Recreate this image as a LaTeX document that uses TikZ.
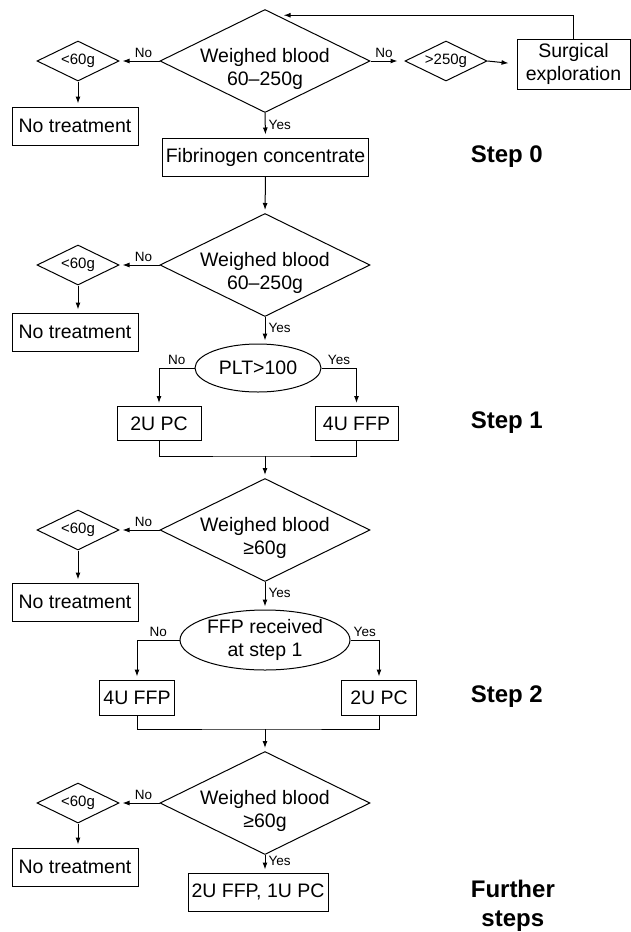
\documentclass[tikz,border=0pt]{standalone}
\usepackage{fontspec}
\setmainfont{Liberation Sans}
\usetikzlibrary{shapes.geometric,arrows.meta,calc}

\begin{document}
\begin{tikzpicture}[x = 1pt, y = -1pt, line width = 1pt,
    >={Latex[length = 7pt, width = 5pt]},
    every node/.style = {font = \fontsize{19.5}{23}\selectfont},
    box/.style = {draw, inner sep = 0pt, minimum height = 38pt},
    bigdia/.style = {draw, diamond, aspect = 2, inner sep = 0pt, minimum width = 210pt, minimum height = 103pt},
    smalldia/.style = {draw, diamond, aspect = 2, inner sep = 0pt, minimum width = 82pt, minimum height = 40pt, font = \fontsize{15}{17}\selectfont},
    oval/.style = {draw, ellipse, inner sep = 0pt, align = center},
    lbl/.style = {font = \fontsize{13.5}{15}\selectfont, inner sep = 3pt},
    stage/.style = {font = \fontsize{24}{29}\selectfont\bfseries, anchor = west, align = center},
    arr/.style = {->, shorten >=3pt}]
\useasboundingbox (0,0) rectangle (631,932);

\node[bigdia] (d1) at (265,61) {};
\node (d1t) [align = center] at ([yshift = -8pt]d1.center) {Weighed blood\\60–250g};
\node[smalldia] (g1) at (446,61) {>250g};
\node[box, minimum width = 113pt, minimum height = 50pt, align = center] (surg) at (573.5,64) {Surgical\\exploration};
\node[box, minimum width = 206pt] (fib) at (265.5,157) {Fibrinogen concentrate};
\node[stage] (s0) at (467,157) {Step 0};

\node[bigdia] (d2) at (265,265) {};
\node (d2t) [align = center] at ([yshift = -8pt]d2.center) {Weighed blood\\60–250g};
\node[oval, minimum width = 126pt, minimum height = 48pt] (plt) at (258,368) {PLT>100};
\node[box, minimum width = 84pt, minimum height = 34pt] (pc1) at (159,423.5) {2U PC};
\node[box, minimum width = 83pt, minimum height = 34pt] (ffp1) at (356.5,423.5) {4U FFP};
\node[stage] (s1) at (467,423) {Step 1};
\coordinate (m1) at (265,456);

\node[bigdia] (d3) at (265,530) {};
\node (d3t) [align = center] at ([yshift = -8pt]d3.center) {Weighed blood\\≥60g};
\node[oval, minimum width = 170pt, minimum height = 60pt] (ffpq) at (265,640) {FFP received\\at step 1};
\node[box, minimum width = 75pt, minimum height = 35pt] (ffp2) at (137,697.5) {4U FFP};
\node[box, minimum width = 75pt, minimum height = 35pt] (pc2) at (379,697.5) {2U PC};
\node[stage] (s2) at (467,697) {Step 2};
\coordinate (m2) at (265,729);

\node[bigdia] (d4) at (265,803) {};
\node (d4t) [align = center] at ([yshift = -8pt]d4.center) {Weighed blood\\≥60g};
\node[box, minimum width = 140pt] (fin) at (258,892) {2U FFP, 1U PC};
\node[stage] (s3) at (467,905.5) {Further\\steps};

\foreach \n/\y/\z in {1/61/126, 2/265/332, 3/530/602, 4/803/867} {
  \node[smalldia] (lt\n) at (78,\y) {<60g};
  \node[box, minimum width = 126pt] (nt\n) at (75,\z) {No treatment};
  \draw[arr] (d\n.west) -- (lt\n.east) node[lbl, above, pos = 0.4] {No};
  \draw[arr] (lt\n.south) -- (lt\n.south |- nt\n.north);
}

\draw[arr, shorten >=7pt] (d1.east) -- (g1.west) node[lbl, above, pos = 0.4] {No};
\draw[arr, shorten >=8pt] (g1.east) -- (surg.west);
\draw[arr, shorten >=6pt] (surg.north) |- ($(d1.north)!0.12!(d1.east)$);
\draw[arr] (d1.south) -- (fib.north) node[lbl, right, pos = 0.48] {Yes};
\draw[arr] (fib.south) -- (d2.north);

\draw[arr] (d2.south) -- (d2.south |- plt.north) node[lbl, right, pos = 0.4] {Yes};
\draw[arr] (plt.west) -| (pc1.north) node[lbl, above, pos = 0.25] {No};
\draw[arr] (plt.east) -| (ffp1.north) node[lbl, above, pos = 0.25] {Yes};
\draw (pc1.south) |- (m1) -| (ffp1.south);
\draw[arr] (m1) -- (d3.north);

\draw[arr] (d3.south) -- (ffpq.north) node[lbl, right, pos = 0.4] {Yes};
\draw[arr] (ffpq.west) -| (ffp2.north) node[lbl, above, pos = 0.25] {No};
\draw[arr] (ffpq.east) -| (pc2.north) node[lbl, above, pos = 0.25] {Yes};
\draw (ffp2.south) |- (m2) -| (pc2.south);
\draw[arr] (m2) -- (d4.north);

\draw[arr] (d4.south) -- (d4.south |- fin.north) node[lbl, right, pos = 0.35] {Yes};
\end{tikzpicture}
\end{document}
